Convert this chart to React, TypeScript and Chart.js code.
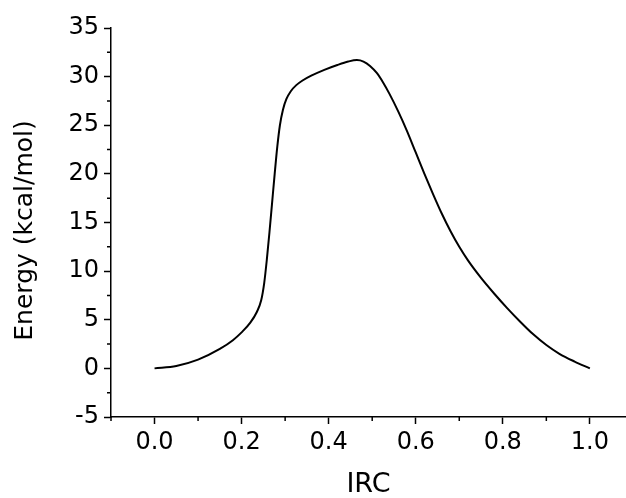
import React, { useEffect, useRef } from "react";
import { Chart, registerables } from "chart.js";

Chart.register(...registerables);

const irc = [
  0.0, 0.05, 0.1, 0.15, 0.18, 0.2, 0.22, 0.235, 0.245, 0.252, 0.258, 0.264, 0.27, 0.276, 0.282, 0.288,
  0.295, 0.303, 0.313, 0.325, 0.34, 0.36, 0.39, 0.42, 0.445, 0.465, 0.48, 0.495, 0.51, 0.525, 0.54,
  0.56, 0.58, 0.6, 0.62, 0.64, 0.66, 0.68, 0.7, 0.72, 0.75, 0.78, 0.81, 0.84, 0.87, 0.9, 0.93, 0.965, 1.0,
];
const energy = [
  0.0, 0.25, 0.9, 2.0, 2.9, 3.7, 4.7, 5.8, 7.0, 8.8, 11.2, 14.0, 17.0, 20.0, 22.8, 25.0,
  26.6, 27.7, 28.5, 29.1, 29.6, 30.1, 30.7, 31.2, 31.55, 31.7, 31.55, 31.1, 30.4, 29.4, 28.2,
  26.4, 24.4, 22.2, 20.0, 17.9, 15.9, 14.1, 12.5, 11.1, 9.3, 7.7, 6.2, 4.8, 3.5, 2.4, 1.5, 0.7, 0.0,
];

const xMajorTicks = [0.0, 0.2, 0.4, 0.6, 0.8, 1.0];
const xMinorTicks = [-0.1, 0.1, 0.3, 0.5, 0.7, 0.9];
const yMajorTicks = [-5, 0, 5, 10, 15, 20, 25, 30, 35];
const yMinorTicks = [-2.5, 2.5, 7.5, 12.5, 17.5, 22.5, 27.5, 32.5];

const X_MIN = -0.1;
const X_MAX = 1.083;
const Y_MIN = -5;
const Y_MAX = 35;

const X_TITLE = "IRC";
const Y_TITLE = "Energy (kcal/mol)";

const FONT = "'DejaVu Sans', 'Liberation Sans', Arial, sans-serif";

const minorTicksPlugin = {
  id: "minorTicks",
  afterDraw(chart: any) {
    const ctx = chart.ctx;
    const xs = chart.scales.x;
    const ys = chart.scales.y;
    const area = chart.chartArea;
    ctx.save();
    ctx.strokeStyle = "#000";
    ctx.lineWidth = 1.5;
    ctx.beginPath();
    xMinorTicks.forEach((v) => {
      const px = xs.getPixelForValue(v);
      ctx.moveTo(px, area.bottom);
      ctx.lineTo(px, area.bottom + 4);
    });
    yMinorTicks.forEach((v) => {
      const py = ys.getPixelForValue(v);
      ctx.moveTo(area.left, py);
      ctx.lineTo(area.left - 4, py);
    });
    ctx.stroke();
    ctx.restore();
  },
};

export default function App() {
  const ref = useRef<HTMLCanvasElement | null>(null);

  useEffect(() => {
    if (!ref.current) return;
    const chart = new Chart(ref.current, {
      type: "line",
      data: {
        datasets: [
          {
            data: irc.map((x, i) => ({ x, y: energy[i] })),
            borderColor: "#000",
            borderWidth: 2,
            pointRadius: 0,
            fill: false,
            cubicInterpolationMode: "monotone",
          },
        ],
      },
      options: {
        responsive: false,
        animation: false,
        layout: { padding: { top: 28, right: 0, left: 0, bottom: 0 } },
        plugins: { legend: { display: false }, tooltip: { enabled: false } },
        scales: {
          x: {
            type: "linear",
            min: X_MIN,
            max: X_MAX,
            afterBuildTicks: (scale: any) => {
              scale.ticks = xMajorTicks.map((v) => ({ value: v }));
            },
            afterFit: (scale: any) => {
              scale.height = 81;
            },
            border: { display: true, color: "#000", width: 1.5 },
            grid: {
              drawOnChartArea: false,
              drawTicks: true,
              tickLength: 7,
              tickColor: "#000",
              tickWidth: 1.5,
            },
            ticks: {
              color: "#000",
              padding: 4,
              maxRotation: 0,
              autoSkip: false,
              font: { family: FONT, size: 24 },
              callback: (v: any) => Number(v).toFixed(1),
            },
            title: {
              display: true,
              text: X_TITLE,
              color: "#000",
              font: { family: FONT, size: 27, lineHeight: 1 },
              padding: { top: 0, bottom: 0 },
            },
          },
          y: {
            type: "linear",
            min: Y_MIN,
            max: Y_MAX,
            afterBuildTicks: (scale: any) => {
              scale.ticks = yMajorTicks.map((v) => ({ value: v }));
            },
            afterFit: (scale: any) => {
              scale.width = 111;
            },
            border: { display: true, color: "#000", width: 1.5 },
            grid: {
              drawOnChartArea: false,
              drawTicks: true,
              tickLength: 7,
              tickColor: "#000",
              tickWidth: 1.5,
            },
            ticks: {
              color: "#000",
              padding: 5,
              autoSkip: false,
              font: { family: FONT, size: 24 },
              callback: (v: any) => String(v),
            },
            title: {
              display: true,
              text: Y_TITLE + "  ",
              color: "#000",
              font: { family: FONT, size: 25, lineHeight: 1.2 },
              padding: { top: 10, bottom: 0 },
            },
          },
        },
      },
      plugins: [minorTicksPlugin],
    });
    return () => chart.destroy();
  }, []);

  return (
    <canvas
      ref={ref}
      width={626}
      height={498}
      style={{ position: "absolute", left: 0, top: 0, display: "block" }}
    />
  );
}
